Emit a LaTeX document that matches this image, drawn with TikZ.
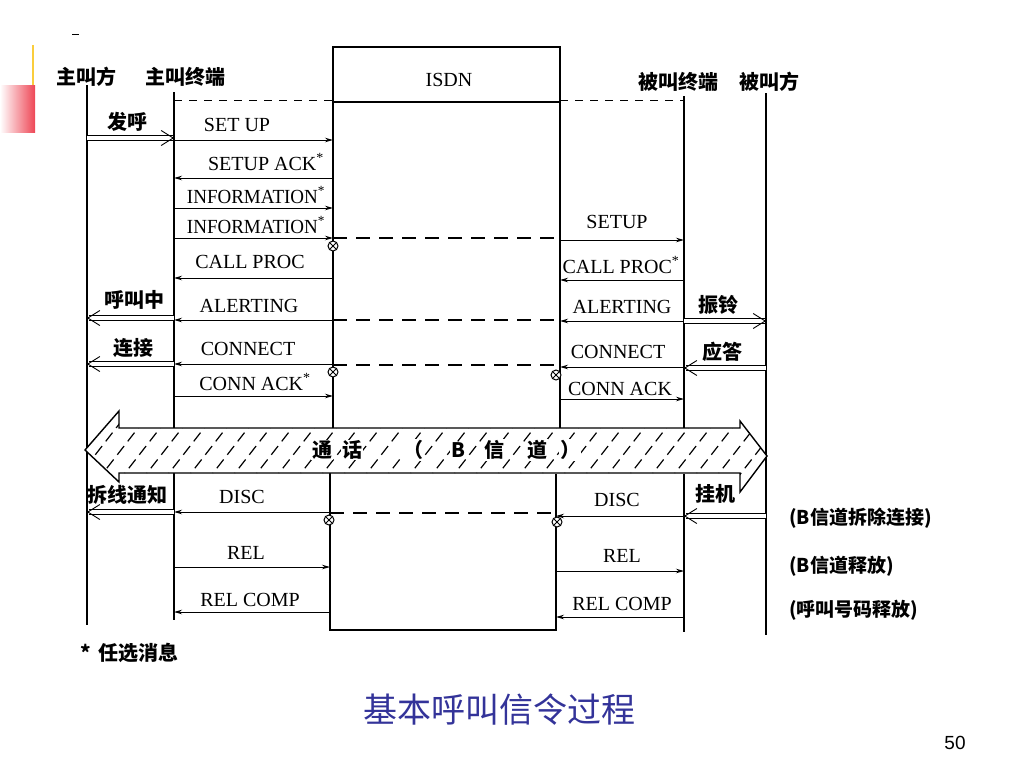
\documentclass[tikz,border=0pt]{standalone}
\usepackage{fontspec}
\setmainfont{Liberation Serif}
\newfontfamily\cjk{Noto Sans CJK SC}
\newfontfamily\sansf{Liberation Sans}
\usetikzlibrary{arrows.meta,calc}
\definecolor{titleblue}{RGB}{51,51,153}
\definecolor{decoyellow}{RGB}{250,205,60}
\definecolor{decored}{RGB}{238,70,85}
\newcommand\uarr[2]{%
  \draw[udouble] #1 -- ($#2!1.5pt!#1$);
  \draw[ubarb] ($#2!2pt!#1$) -- #2;}
\begin{document}
\begin{tikzpicture}[x=1pt,y=-1pt,
  life/.style={line width=1.4pt},
  msgline/.style={line width=1pt,-{Stealth[length=8pt,width=4.5pt]}},
  netdash/.style={line width=1.7pt,dash pattern=on 14pt off 9pt},
  topdash/.style={line width=1pt,dash pattern=on 8pt off 7pt},
  udouble/.style={double,double distance=3.5pt,line width=0.9pt},
  ubarb/.style={line width=0.9pt,-{Straight Barb[length=12pt,width=15pt]}},
  lbl/.style={font=\fontsize{20}{22}\selectfont,inner sep=0pt},
  clbl/.style={font=\cjk\bfseries\fontsize{20}{22}\selectfont,inner sep=0pt},
  albl/.style={font=\cjk\bfseries\fontsize{19}{21}\selectfont,inner sep=0pt},
  xmark/.style={circle,draw,line width=1pt,minimum size=10pt,inner sep=0pt,fill=white,
    path picture={\draw[line width=0.8pt] (path picture bounding box.north west)--(path picture bounding box.south east)
      (path picture bounding box.south west)--(path picture bounding box.north east);}}
]
\useasboundingbox (0,0) rectangle (1024,768);
% decoration
\shade[left color=white,right color=decored] (0,85) rectangle (35,132);
\draw[decoyellow,line width=2.5pt] (33,45) -- (33,85);
\draw[line width=1pt] (72,35) -- (79,35);

% lifeline anchors
\coordinate (A) at (87,0);
\coordinate (T) at (174,0);
\coordinate (N1) at (333,0);
\coordinate (N2) at (560,0);
\coordinate (N1b) at (330,0);
\coordinate (N2b) at (556,0);
\coordinate (T2) at (684,0);
\coordinate (B) at (766,0);

% lifelines
\draw[life] (A |- 0,85) -- (A |- 0,625);
\draw[life] (T |- 0,92) -- (T |- 0,429);
\draw[life] (T |- 0,472) -- (T |- 0,620);
\draw[life] (N1 |- 0,429) -- (N1 |- 0,47) -- (N2 |- 0,47) -- (N2 |- 0,429);
\draw[line width=1.6pt] (N1 |- 0,102) -- (N2 |- 0,102);
\draw[life] (N1b |- 0,472) -- (N1b |- 0,630) -- (N2b |- 0,630) -- (N2b |- 0,474);
\draw[life] (T2 |- 0,96) -- (T2 |- 0,429);
\draw[life] (T2 |- 0,474) -- (T2 |- 0,632);
\draw[life] (B |- 0,93) -- (B |- 0,635);
\draw[topdash] (T |- 0,100) -- (N1 |- 0,100);
\draw[topdash] (N2 |- 0,100) -- (T2 |- 0,100);

% headers
\node[clbl] (hA) at (86,77) {主叫方};
\node[clbl] (hT) at (185,77) {主叫终端};
\node[lbl] (hN) at (449,80) {ISDN};
\node[clbl] (hT2) at (678,82) {被叫终端};
\node[clbl] (hB) at (769,82) {被叫方};

% left upper messages
\draw[msgline] (T |- 0,140) -- (N1 |- 0,140);
\node[lbl] (m1) at (237,125) {SET UP};
\draw[msgline] (N1 |- 0,178) -- (T |- 0,178);
\node[lbl] (m2) at (266,162) {SETUP ACK\textsuperscript{*}};
\draw[msgline] (T |- 0,208) -- (N1 |- 0,208);
\node[lbl,xscale=0.95] (m3) at (256,195) {INFORMATION\textsuperscript{*}};
\draw[msgline] (T |- 0,238) -- (N1 |- 0,238);
\node[lbl,xscale=0.95] (m4) at (256,225) {INFORMATION\textsuperscript{*}};
\draw[msgline] (N1 |- 0,278) -- (T |- 0,278);
\node[lbl] (m5) at (250,262) {CALL PROC};
\draw[msgline] (N1 |- 0,320) -- (T |- 0,320);
\node[lbl] (m6) at (249,306) {ALERTING};
\draw[msgline] (N1 |- 0,364) -- (T |- 0,364);
\node[lbl] (m7) at (248,349) {CONNECT};
\draw[msgline] (T |- 0,396) -- (N1 |- 0,396);
\node[lbl] (m8) at (255,382) {CONN ACK\textsuperscript{*}};

% right upper messages
\draw[msgline] (N2 |- 0,240) -- (T2 |- 0,240);
\node[lbl] (r1) at (617,222) {SETUP};
\draw[msgline] (T2 |- 0,280) -- (N2 |- 0,280);
\node[lbl] (r2) at (621,265) {CALL PROC\textsuperscript{*}};
\draw[msgline] (T2 |- 0,321) -- (N2 |- 0,321);
\node[lbl] (r3) at (622,307) {ALERTING};
\draw[msgline] (T2 |- 0,367) -- (N2 |- 0,367);
\node[lbl] (r4) at (618,352) {CONNECT};
\draw[msgline] (N2 |- 0,399) -- (T2 |- 0,399);
\node[lbl] (r5) at (620,389) {CONN ACK};

% network dashed lines
\draw[netdash] (N1 |- 0,238) -- (N2 |- 0,238);
\draw[netdash] (N1 |- 0,320) -- (N2 |- 0,320);
\draw[netdash] (N1 |- 0,365) -- (N2 |- 0,365);
\draw[netdash] (N1b |- 0,513) -- (N2b |- 0,513);

% cross marks
\node[xmark] (x1) at (333,246) {};
\node[xmark] (x2) at (333,372) {};
\node[xmark] (x3) at (556,375) {};
\node[xmark] (x4) at (329,520) {};
\node[xmark] (x5) at (557,522) {};

% user side arrows
\uarr{(A |- 0,138)}{(T |- 0,138)}
\node[clbl] (u1) at (127,122) {发呼};
\uarr{(T |- 0,318)}{(A |- 0,318)}
\node[clbl] (u2) at (134,300) {呼叫中};
\uarr{(T |- 0,364)}{(A |- 0,364)}
\node[clbl] (u3) at (133,348) {连接};
\uarr{(T |- 0,512)}{(A |- 0,512)}
\node[clbl] (u4) at (127,495) {拆线通知};
\uarr{(T2 |- 0,321)}{(B |- 0,321)}
\node[clbl] (u5) at (718,305) {振铃};
\uarr{(B |- 0,368)}{(T2 |- 0,368)}
\node[clbl] (u6) at (722,352) {应答};
\uarr{(B |- 0,516)}{(T2 |- 0,516)}
\node[clbl] (u7) at (715,494) {挂机};

% hatched B-channel arrow
\def\harrow{(85,450) -- (119,411) -- (119,428) -- (740,428) -- (740,421) -- (767,456) -- (740,492) -- (740,473) -- (119,473) -- (119,482) -- cycle}
\fill[white] \harrow;
\begin{scope}
\clip \harrow;
\foreach \x in {20,42,...,820}
  \draw[line width=1.2pt,dash pattern=on 11pt off 6pt] (\x,495) -- (\x+70,405);
\end{scope}
\draw[line width=1.4pt,line join=miter] \harrow;
\foreach \c/\x in {通/322,话/352,（/413,B/458,信/494,道/537,）/570}
  \node[clbl,fill=white,inner sep=1pt] at (\x,450) {\c};

% left lower messages
\draw[msgline] (N1b |- 0,512) -- (T |- 0,512);
\node[lbl] (d1) at (242,497) {DISC};
\draw[msgline] (T |- 0,567) -- (N1b |- 0,567);
\node[lbl] (d2) at (246,553) {REL};
\draw[msgline] (N1b |- 0,612) -- (T |- 0,612);
\node[lbl] (d3) at (250,600) {REL COMP};

% right lower messages
\draw[msgline] (T2 |- 0,516) -- (N2b |- 0,516);
\node[lbl] (e1) at (617,500) {DISC};
\draw[msgline] (N2b |- 0,571) -- (T2 |- 0,571);
\node[lbl] (e2) at (622,556) {REL};
\draw[msgline] (T2 |- 0,617) -- (N2b |- 0,617);
\node[lbl] (e3) at (622,604) {REL COMP};

% annotations
\node[albl,anchor=west] (n1) at (789,518) {(B信道拆除连接)};
\node[albl,anchor=west] (n2) at (789,566) {(B信道释放)};
\node[albl,anchor=west] (n3) at (789,610) {(呼叫号码释放)};
\node[clbl,anchor=west] (fn) at (80,653) {*\, 任选消息};

% title and page number
\node[font=\cjk\fontsize{34}{36}\selectfont,text=titleblue,inner sep=0pt] (title) at (499,710) {基本呼叫信令过程};
\node[font=\sansf\fontsize{19}{21}\selectfont,inner sep=0pt] (pg) at (955,743) {50};
\end{tikzpicture}
\end{document}
